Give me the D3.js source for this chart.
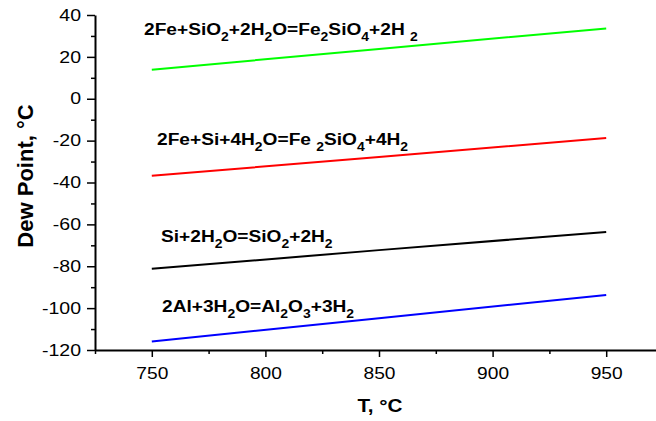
<!DOCTYPE html>
<html>
<head>
<meta charset="utf-8">
<script src="https://cdn.jsdelivr.net/npm/d3@7"></script>
<style>
  body { margin: 0; background: #fff; }
  svg { display: block; font-family: "Liberation Sans", Arial, sans-serif; }
  .axis path, .axis line { stroke: #000; }
  .axis text { fill: #000; }
</style>
</head>
<body>
<svg id="canvas"></svg>
<script>
// temperatures (deg C) where the lines were read
let temps = [750, 850, 950];

// dew point values
let greenValues = [13.9, 23.8, 33.6];
let redValues = [-36.8, -27.8, -18.8];
let blackValues = [-81.2, -72.3, -63.6];
let blueValues = [-115.9, -104.8, -93.7];

let reactions = [
  "2Fe+SiO_2+2H_2O=Fe_2SiO_4+2H _2",
  "2Fe+Si+4H_2O=Fe _2SiO_4+4H_2",
  "Si+2H_2O=SiO_2+2H_2",
  "2Al+3H_2O=Al_2O_3+3H_2",
];

let xTicks = [750, 800, 850, 900, 950];
let xMinor = [725, 775, 825, 875, 925, 975];
let yTicks = [-120, -100, -80, -60, -40, -20, 0, 20, 40];
let yMinor = [-110, -90, -70, -50, -30, -10, 10, 30];

let width = 656,
  height = 421;

let canvas = d3.select("#canvas").attr("width", width).attr("height", height);

let xScale = d3.scaleLinear().domain([725, 975]).range([95, 663]);
let yScale = d3.scaleLinear().domain([-120, 40]).range([350, 15]);

let series = [
  { values: greenValues, color: "#00ff00", label: reactions[0], lx: 144, ly: 35 },
  { values: redValues, color: "#ff0000", label: reactions[1], lx: 157, ly: 145 },
  { values: blackValues, color: "#000000", label: reactions[2], lx: 161, ly: 242 },
  { values: blueValues, color: "#0000ff", label: reactions[3], lx: 162, ly: 312 },
];

// plain hyphen for negatives, like the original
let fmt = (d) => String(d);

let drawAxes = () => {
  // minor ticks, no labels
  canvas.append("g")
    .attr("class", "axis")
    .attr("transform", "translate(95, 0)")
    .call(d3.axisLeft(yScale).tickValues(yMinor).tickSize(4).tickFormat(""))
    .call((g) => g.select(".domain").remove())
    .selectAll("line").attr("stroke-width", 1.5);

  canvas.append("g")
    .attr("class", "axis")
    .attr("transform", "translate(0, 350)")
    .call(d3.axisBottom(xScale).tickValues(xMinor).tickSize(4).tickFormat(""))
    .call((g) => g.select(".domain").remove())
    .selectAll("line").attr("stroke-width", 1.5);

  let yAxis = canvas.append("g")
    .attr("class", "axis")
    .attr("transform", "translate(95, 0)")
    .call(d3.axisLeft(yScale).tickValues(yTicks).tickSize(8).tickSizeOuter(0).tickFormat(fmt));
  yAxis.attr("font-family", null);
  yAxis.select(".domain").attr("stroke-width", 2);
  yAxis.selectAll("line").attr("stroke-width", 1.5);
  yAxis.selectAll("text")
    .attr("font-size", 16)
    .attr("x", 0)
    .attr("transform", "translate(-14, 0) scale(1.22, 1)");

  let xAxis = canvas.append("g")
    .attr("class", "axis")
    .attr("transform", "translate(0, 350)")
    .call(d3.axisBottom(xScale).tickValues(xTicks).tickSize(7).tickSizeOuter(0).tickFormat(fmt));
  xAxis.attr("font-family", null);
  xAxis.select(".domain").attr("stroke-width", 2);
  xAxis.selectAll("line").attr("stroke-width", 1.5);
  xAxis.selectAll("text")
    .attr("font-size", 17)
    .attr("y", 29)
    .attr("dy", null)
    .attr("transform", "scale(1.13, 1)");

  canvas.append("text")
    .attr("transform", "translate(380, 412) scale(1.15, 1)")
    .attr("text-anchor", "middle")
    .attr("font-size", 18)
    .attr("font-weight", "bold")
    .text("T, \u00B0C");

  canvas.append("text")
    .attr("transform", "translate(33, 176) rotate(-90)")
    .attr("text-anchor", "middle")
    .attr("font-size", 22)
    .attr("font-weight", "bold")
    .text("Dew Point, \u00B0C");
};

let drawLines = () => {
  let line = d3.line()
    .x((d, i) => xScale(temps[i]))
    .y((d) => yScale(d));

  canvas.selectAll(".series")
    .data(series)
    .enter()
    .append("path")
    .attr("class", "series")
    .attr("fill", "none")
    .attr("stroke", (s) => s.color)
    .attr("stroke-width", 2)
    .attr("d", (s) => line(s.values));
};

let drawLabels = () => {
  series.forEach((s) => {
    let t = canvas.append("text")
      .attr("transform", "translate(" + s.lx + "," + s.ly + ") scale(1.16, 1)")
      .attr("font-size", 16.5)
      .attr("font-weight", "bold")
      .attr("xml:space", "preserve");
    // "_x" means x is a subscript
    let parts = s.label.split("_");
    parts.forEach((p, i) => {
      if (i === 0) {
        t.append("tspan").text(p);
      } else {
        t.append("tspan").attr("dy", 6).attr("font-size", 12).text(p[0]);
        if (p.length > 1) t.append("tspan").attr("dy", -6).text(p.slice(1));
      }
    });
  });
};

drawAxes();
drawLines();
drawLabels();
</script>
</body>
</html>
